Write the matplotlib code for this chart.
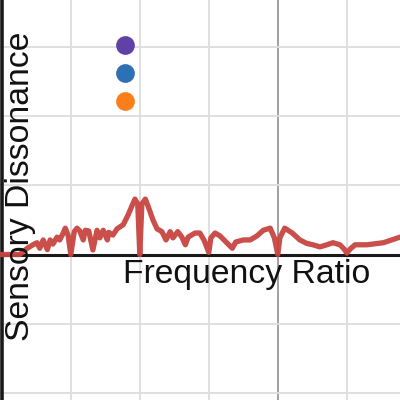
import numpy as np
import matplotlib
matplotlib.use("Agg")
import matplotlib.pyplot as plt

# dissonance curve (grid units)
ratio = [-0.03, 0.26, 0.37, 0.45, 0.51, 0.55, 0.60, 0.66, 0.70, 0.74, 0.80, 0.84,
         0.89, 0.92, 0.96, 1.00, 1.05, 1.09, 1.13, 1.18, 1.21, 1.26, 1.32, 1.38,
         1.42, 1.47, 1.53, 1.55, 1.61, 1.67, 1.76, 1.83, 1.89, 1.93, 1.97, 2.00,
         2.03, 2.08, 2.13, 2.19, 2.25, 2.32, 2.38, 2.44, 2.48, 2.55, 2.61, 2.66,
         2.70, 2.80, 2.87, 2.93, 3.00, 3.03, 3.09, 3.16, 3.25, 3.34, 3.39, 3.50,
         3.60, 3.70, 3.79, 3.89, 3.95, 4.00, 4.03, 4.10, 4.21, 4.32, 4.42, 4.51,
         4.61, 4.71, 4.80, 4.90, 4.96, 5.00, 5.05, 5.12, 5.29, 5.53, 5.77]
dissonance = [0.0, 0.0, 0.09, 0.14, 0.17, 0.09, 0.21, 0.07, 0.21, 0.15, 0.25, 0.21,
              0.31, 0.38, 0.28, 0.0, 0.33, 0.38, 0.34, 0.21, 0.35, 0.34, 0.065, 0.35,
              0.24, 0.35, 0.21, 0.32, 0.28, 0.37, 0.43, 0.57, 0.71, 0.80, 0.73, 0.0,
              0.73, 0.80, 0.67, 0.50, 0.37, 0.33, 0.21, 0.33, 0.24, 0.33, 0.25, 0.14,
              0.25, 0.31, 0.31, 0.21, 0.03, 0.24, 0.31, 0.27, 0.18, 0.09, 0.18, 0.21,
              0.21, 0.27, 0.35, 0.38, 0.24, 0.0, 0.24, 0.38, 0.31, 0.21, 0.16, 0.14,
              0.11, 0.14, 0.17, 0.14, 0.08, 0.02, 0.08, 0.14, 0.14, 0.17, 0.25]

# the three dots
dot_x = [1.78, 1.78, 1.78]
dot_y = [3.02, 2.62, 2.21]
dot_colors = ['#6042a6', '#2d70b3', '#fa7e19']

fig = plt.figure(figsize=(4, 4), dpi=100)
ax = fig.add_axes([0, 0, 1, 1])
ax.set_xlim(-1.8 / 69, 398.2 / 69)
ax.set_ylim(-145.5 / 69.3, 254.5 / 69.3)

# grid
for gx in range(0, 6):
    if gx == 4:
        ax.axvline(gx, color='#999999', lw=1.3, zorder=1)
    elif gx > 0:
        ax.axvline(gx, color='#dddddd', lw=1.3, zorder=1)
for gy in range(-2, 4):
    if gy != 0:
        ax.axhline(gy, color='#dddddd', lw=1.3, zorder=1)

# axes lines
ax.axhline(0, color='#1a1a1a', lw=2.2, zorder=2)
ax.axvline(0, color='#1a1a1a', lw=2.6, zorder=2)

ax.plot(ratio, dissonance, color='#c74440', lw=3.8, solid_joinstyle='round',
        solid_capstyle='round', alpha=0.95, zorder=3)

for x, y, c in zip(dot_x, dot_y, dot_colors):
    ax.plot(x, y, 'o', color=c, markersize=13.5, markeredgewidth=0, zorder=4)

ax.set_xticks([])
ax.set_yticks([])
for s in ax.spines.values():
    s.set_visible(False)

fig.text(123 / 400, 1 - 283 / 400, 'Frequency Ratio', family='Liberation Sans',
         fontsize=24.3, ha='left', va='baseline', color='#111111')
fig.text(20.5 / 400, 1 - 186 / 400, 'Sensory Dissonance', family='Liberation Sans',
         fontsize=24.3, rotation=90, ha='center', va='center', color='#111111')

fig.savefig('out.png', dpi=100)
